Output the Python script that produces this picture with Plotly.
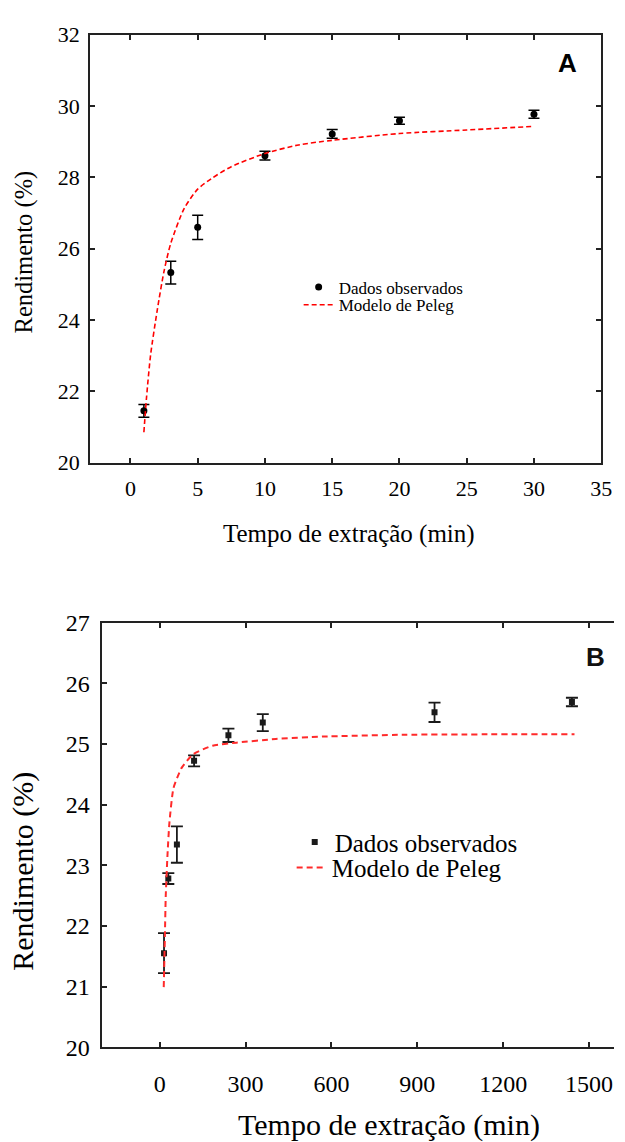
import plotly.graph_objects as go

# ---------------- Panel A data ----------------
tA = [1, 3, 5, 10, 15, 20, 30]
yA = [21.45, 25.33, 26.60, 28.61, 29.22, 29.59, 29.77]
errA = [0.18, 0.32, 0.34, 0.12, 0.12, 0.10, 0.11]

modelA_t = [1.0, 1.2, 1.5, 2.0, 2.5, 3.0, 4.0, 5.0, 6.0, 7.5, 10, 12.5, 15, 20, 25, 30]
modelA_y = [20.85, 21.84, 23.02, 24.29, 25.37, 26.15, 27.13, 27.67, 27.96, 28.30,
            28.67, 28.91, 29.04, 29.23, 29.33, 29.43]

xticksA = [0, 5, 10, 15, 20, 25, 30, 35]
yticksA = [20, 22, 24, 26, 28, 30, 32]

# ---------------- Panel B data ----------------
tB = [15, 30, 60, 120, 240, 360, 960, 1440]
yB = [21.55, 22.78, 23.34, 24.72, 25.14, 25.35, 25.52, 25.69]
errB = [0.33, 0.09, 0.30, 0.09, 0.11, 0.14, 0.16, 0.07]

modelB_t = [14, 18, 21, 27, 34, 48, 76, 117, 185, 268, 405, 570, 858, 1449]
modelB_y = [20.99, 21.82, 22.49, 23.16, 23.71, 24.27, 24.60, 24.83, 24.97, 25.02,
            25.08, 25.12, 25.15, 25.16]

xticksB = [0, 300, 600, 900, 1200, 1500]
yticksB = [20, 21, 22, 23, 24, 25, 26, 27]

label_data = "Dados observados"
label_model = "Modelo de Peleg"
x_title = "Tempo de extração (min)"
y_title = "Rendimento (%)"

SERIF = "Liberation Serif, Times New Roman, serif"
AXC = "#222222"

fig = go.Figure()

# Panel A
fig.add_trace(go.Scatter(
    x=tA, y=yA, mode="markers", name=label_data, legend="legend",
    marker=dict(symbol="circle", size=7, color="black"),
    error_y=dict(type="data", array=errA, thickness=1.5, width=5.5, color="black"),
    xaxis="x", yaxis="y"))
fig.add_trace(go.Scatter(
    x=modelA_t, y=modelA_y, mode="lines", name=label_model, legend="legend2",
    line=dict(color="#ff0000", width=1.6, dash="5px,3px", shape="spline", smoothing=0.7),
    xaxis="x", yaxis="y"))

# Panel B
fig.add_trace(go.Scatter(
    x=tB, y=yB, mode="markers", name=label_data, legend="legend3",
    marker=dict(symbol="square", size=6, color="#1a1a1a"),
    error_y=dict(type="data", array=errB, thickness=1.8, width=6, color="#1a1a1a"),
    xaxis="x2", yaxis="y2"))
fig.add_trace(go.Scatter(
    x=modelB_t, y=modelB_y, mode="lines", name=label_model, legend="legend4",
    line=dict(color="#ff2a2a", width=2, dash="6px,4px", shape="spline", smoothing=0.5),
    xaxis="x2", yaxis="y2"))

axis_common = dict(
    ticks="inside", ticklen=5, tickwidth=1.5, tickcolor=AXC,
    showline=True, linewidth=2, linecolor=AXC,
    showgrid=False, zeroline=False,
)

fig.update_layout(
    width=625, height=1142,
    margin=dict(l=0, r=0, t=0, b=0),
    paper_bgcolor="white", plot_bgcolor="white",
    font=dict(family=SERIF, color="black"),
    xaxis=dict(domain=[0.1467, 0.9792], range=[-3, 35], tickvals=xticksA,
               mirror="ticks", anchor="y", ticklabelstandoff=5,
               tickfont=dict(family=SERIF, size=22, color="black"), **axis_common),
    yaxis=dict(domain=[0.5972, 0.98047], range=[20, 32], tickvals=yticksA,
               mirror="ticks", anchor="x", ticklabelstandoff=4,
               tickfont=dict(family=SERIF, size=22, color="black"), **axis_common),
    xaxis2=dict(domain=[0.1669, 1.0], range=[-200, 1587], tickvals=xticksB,
                mirror="ticks", anchor="y2", ticklabelstandoff=14,
                tickfont=dict(family=SERIF, size=24, color="black"), **axis_common),
    yaxis2=dict(domain=[0.07329, 0.45385], range=[20, 27], tickvals=yticksB,
                mirror=False, anchor="x2", ticklabelstandoff=6,
                tickfont=dict(family=SERIF, size=24, color="black"), **axis_common),
    yaxis3=dict(overlaying="y2", side="right", anchor="x2", range=[20, 27],
                tickvals=yticksB, ticks="inside", ticklen=5, tickwidth=1.5,
                tickcolor=AXC, showticklabels=False, showline=False,
                showgrid=False, zeroline=False),
    legend=dict(x=0.4864, y=0.7540, xanchor="left", yanchor="middle",
                bgcolor="rgba(0,0,0,0)", font=dict(family=SERIF, size=17, color="black")),
    legend2=dict(x=0.4864, y=0.7382, xanchor="left", yanchor="middle",
                 bgcolor="rgba(0,0,0,0)", font=dict(family=SERIF, size=17, color="black")),
    legend3=dict(x=0.480, y=0.2570, xanchor="left", yanchor="middle",
                 bgcolor="rgba(0,0,0,0)", font=dict(family=SERIF, size=25, color="black")),
    legend4=dict(x=0.475, y=0.2342, xanchor="left", yanchor="middle",
                 bgcolor="rgba(0,0,0,0)", font=dict(family=SERIF, size=25, color="black")),
    showlegend=True,
)

ann = [
    dict(text=x_title, x=0.568, y=0.5333, size=25, angle=0),
    dict(text=y_title, x=0.0384, y=0.7860, size=24.5, angle=-90),
    dict(text=x_title, x=0.6328, y=0.0040, size=30, angle=0),
    dict(text=y_title, x=0.0384, y=0.2310, size=30, angle=-90),
]
for a in ann:
    fig.add_annotation(text=a["text"], x=a["x"], y=a["y"], xref="paper", yref="paper",
                       xanchor="center", yanchor="middle", showarrow=False,
                       textangle=a["angle"], font=dict(family=SERIF, size=a["size"], color="black"))

fig.add_annotation(text="<b>A</b>", x=0.9248, y=0.9553, xref="paper", yref="paper",
                   xanchor="center", yanchor="middle", showarrow=False,
                   font=dict(family="Liberation Sans", size=26, color="black"))
fig.add_annotation(text="<b>B</b>", x=0.9700, y=0.4229, xref="paper", yref="paper",
                   xanchor="center", yanchor="middle", showarrow=False,
                   font=dict(family="Liberation Sans", size=26, color="#111111"))

fig.write_html("out.html")
